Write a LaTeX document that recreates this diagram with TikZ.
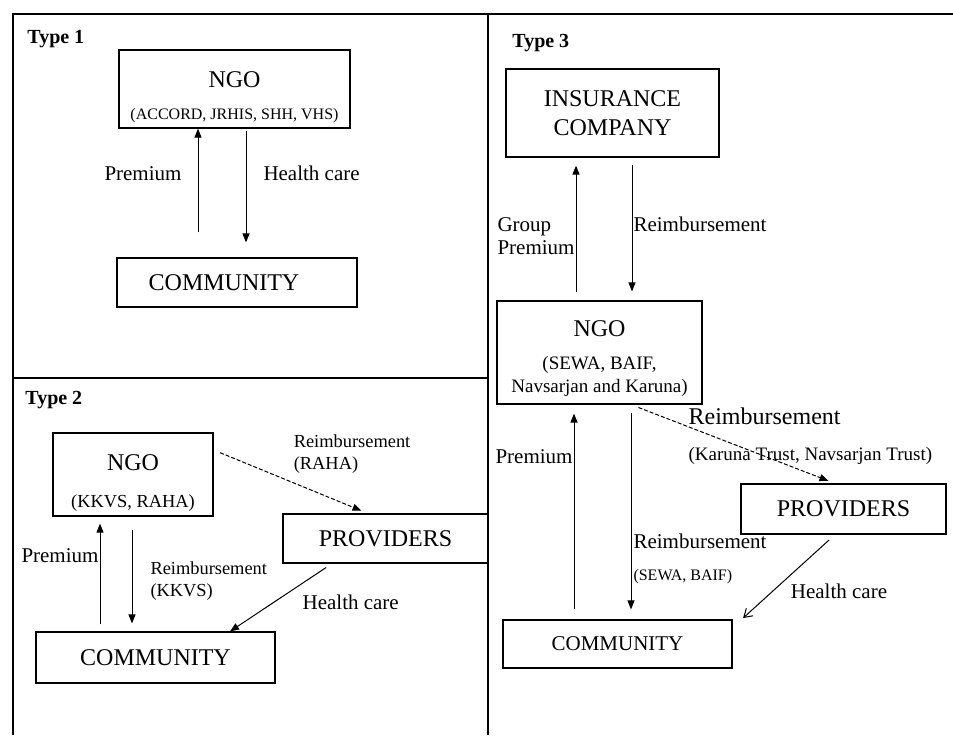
\documentclass[tikz,border=0pt]{standalone}
\usepackage{fontspec}
\setmainfont{Liberation Serif}
\usetikzlibrary{arrows.meta}
\newcommand{\BoxFont}{\fontsize{12}{14.5}\selectfont}
\newcommand{\EdgeFont}{\fontsize{10.5}{12}\selectfont}
\newcommand{\SubText}[2]{{\fontsize{#1}{#1}\selectfont #2}}
\tikzset{
    box/.style={draw, line width=0.6pt, inner sep=2pt, align=center, font=\BoxFont},
    lbl/.style={inner sep=0pt, font=\EdgeFont},
    typelbl/.style={inner sep=0pt, anchor=west, font=\fontsize{10}{12}\selectfont\bfseries},
    frame/.style={line width=0.9pt},
    arr/.style={line width=0.5pt, -{Triangle[length=4.5pt,width=3.5pt]}},
    dasharr/.style={arr, dash pattern=on 2pt off 1pt},
    barb/.style={line width=0.5pt, -{Straight Barb[length=4pt,width=5pt]}},
}
\begin{document}
\begin{tikzpicture}[x=0.5pt, y=-0.5pt]
    \useasboundingbox (0,0) rectangle (953,735);

    \draw[frame] (13,735) -- (13,14) -- (953,14);
    \draw[frame] (13,378) -- (488,378);
    \draw[frame] (488,14) -- (488,735);

    \node[typelbl] (t1) at (27,39) {Type 1};
    \node[typelbl] (t2) at (25,400) {Type 2};
    \node[typelbl] (t3) at (512,43) {Type 3};

    \node[box, minimum width=115.5pt, minimum height=39pt] (n1) at (234.5,89)
        {\rule{0pt}{16pt}NGO\\[1.5pt]\SubText{8}{(ACCORD, JRHIS, SHH, VHS)}};
    \node[box, minimum width=120pt, minimum height=24.5pt] (c1) at (237,282.5) {COMMUNITY\hspace*{13pt}};

    \draw[arr, shorten <=12.5pt] (c1.north -| 198,0) -- node[lbl, pos=0.65, left=8pt] (l1a) {Premium} (n1.south -| 198,0);
    \draw[arr, shorten <=1pt, shorten >=7.5pt] (n1.south -| 246,0) -- node[lbl, pos=0.35, right=8.5pt] (l1b) {Health care} (c1.north -| 246,0);

    \node[box, minimum width=80pt, minimum height=41.5pt] (n2) at (133,474.5)
        {\rule{0pt}{16pt}NGO\\[4pt]\SubText{9.2}{(KKVS, RAHA)}};
    \node[box, minimum width=102.5pt, minimum height=24.5pt] (p2) at (385.5,538.5) {PROVIDERS};
    \node[box, minimum width=119.5pt, minimum height=25.5pt] (c2) at (155.5,657.5) {COMMUNITY};

    \draw[arr, shorten <=3.5pt, shorten >=3.5pt] (c2.north -| 100,0) -- node[lbl, pos=0.66, left=0.5pt] (l2a) {Premium} (n2.south -| 100,0);
    \draw[arr, shorten <=6.5pt, shorten >=4pt] (n2.south -| 132,0) -- node[lbl, pos=0.56, right=9pt, align=left, font=\fontsize{9.2}{11}\selectfont] (l2b) {Reimbursement\\(KKVS)} (c2.north -| 132,0);
    \draw[dasharr, shorten <=3.5pt, shorten >=3.5pt] (n2.east |- 0,450) -- node[lbl, pos=0.5, anchor=south west, xshift=1.25pt, yshift=4pt, align=left, font=\fontsize{9.2}{11}\selectfont] (l2c) {Reimbursement\\(RAHA)} (p2.north -| 368,0);
    \draw[arr, shorten <=3.5pt] (p2.south -| 332,0) -- node[lbl, pos=0.45, anchor=west, xshift=8pt, yshift=-4pt] (l2d) {Health care} (c2.north -| 230,0);

    \node[box, minimum width=106.5pt, minimum height=44pt] (i3) at (612.5,113) {INSURANCE\\COMPANY};
    \node[box, minimum width=102.5pt, minimum height=51.5pt] (n3) at (599.5,352.5)
        {\rule{0pt}{14.5pt}NGO\\[2pt]\SubText{9.5}{(SEWA, BAIF,}\\[-3pt]\SubText{9.5}{Navsarjan and Karuna)}};
    \node[box, minimum width=102.5pt, minimum height=25pt] (p3) at (843.5,509) {PROVIDERS};
    \node[box, minimum width=114.5pt, minimum height=24pt, font=\fontsize{10.5}{12}\selectfont] (c3) at (617.5,644) {COMMUNITY};

    \draw[arr, shorten <=4pt, shorten >=4pt] (n3.north -| 576,0) -- node[lbl, pos=0.45, left=0.5pt, align=left, font=\fontsize{10.5}{11.5}\selectfont] (l3a) {Group\\Premium} (i3.south -| 576,0);
    \draw[arr, shorten <=3.5pt, shorten >=4.5pt] (i3.south -| 632,0) -- node[lbl, pos=0.47, right=0.5pt] (l3b) {Reimbursement} (n3.north -| 632,0);
    \draw[arr, shorten <=5pt, shorten >=4.5pt] (c3.north -| 574,0) -- node[lbl, pos=0.76, left=0.5pt] (l3c) {Premium} (n3.south -| 574,0);
    \draw[arr, shorten <=4pt, shorten >=5pt] (n3.south -| 631,0) -- node[lbl, pos=0.72, right=1pt, align=left] (l3d) {Reimbursement\\[4pt]\SubText{8}{(SEWA, BAIF)}} (c3.north -| 631,0);
    \draw[dasharr, shorten <=4pt, shorten >=3.5pt] (n3.south -| 631,0) -- node[lbl, pos=0.28, anchor=west, yshift=-4.75pt, align=left, font=\fontsize{12}{14}\selectfont] (l3e) {Reimbursement\\[4pt]\SubText{9.5}{(Karuna Trust, Navsarjan Trust)}} (p3.north -| 835,0);
    \draw[barb, shorten <=4pt, shorten >=1pt] (p3.south -| 835,0) -- node[lbl, pos=0.67, anchor=west, xshift=9pt] (l3f) {Health care} ([xshift=4.5pt]c3.north east);
\end{tikzpicture}
\end{document}
